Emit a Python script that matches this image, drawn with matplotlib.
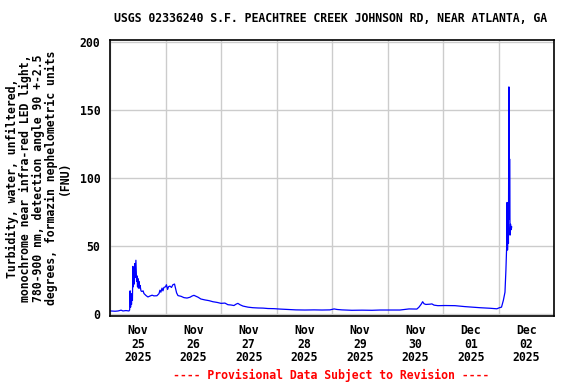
import numpy as np
import matplotlib
matplotlib.use("Agg")
import matplotlib.pyplot as plt
import matplotlib.dates as mdates
from datetime import datetime, timedelta

title = "USGS 02336240 S.F. PEACHTREE CREEK JOHNSON RD, NEAR ATLANTA, GA"
ylabel = ("Turbidity, water, unfiltered,\nmonochrome near infra-red LED light,\n"
          "780-900 nm, detection angle 90 +-2.5\ndegrees, formazin nephelometric units\n(FNU)")
footer = "---- Provisional Data Subject to Revision ----"

# hours since 2025-11-25 00:00
hours = [0.3, 2.2, 3.5, 4.8, 5.6, 6.9, 8.2, 8.5, 8.7, 8.9, 9.1, 9.3, 9.5, 9.7, 9.9, 10.1,
         10.3, 10.5, 10.7, 10.9, 11.2, 11.5, 11.7, 11.9, 12.1, 12.3, 12.5, 12.8, 13.0, 13.4,
         13.8, 14.3, 14.7, 15.6, 16.4, 17.3, 18.2, 19.0, 20.3, 21.2, 21.6, 22.0, 22.5, 22.9,
         23.3, 24.0, 24.4, 24.9, 25.3, 25.9, 26.6, 27.2, 27.9, 28.3, 28.8, 29.4, 30.7, 32.0,
         33.3, 34.6, 35.5, 36.3, 37.2, 38.1, 39.3, 41.1, 42.8, 44.5, 46.3, 48.0, 49.7, 51.0,
         52.3, 53.6, 54.5, 55.3, 56.2, 57.5, 59.7, 61.8, 64.0, 66.2, 68.3, 70.9, 73.5, 77.0,
         80.4, 84.3, 88.2, 91.7, 95.1, 96.9, 98.2, 100.3, 104.6, 109.0, 113.3, 116.8, 121.1,
         125.4, 129.3, 132.7, 133.6, 134.5, 135.2, 135.8, 136.6, 138.4, 139.2, 140.1, 141.8,
         144.9, 149.2, 153.5, 156.5, 160.0, 164.3, 167.3, 168.4, 169.3, 170.1, 170.8, 171.2,
         171.5, 171.7, 171.9, 172.1, 172.3, 172.5, 172.7, 172.8, 173.0, 173.2, 173.5, 173.7]
values = [2.2, 2.0, 2.2, 2.8, 2.2, 2.5, 2.2, 3.0, 17, 5, 13, 7, 15, 10, 35, 20,
          34, 22, 37, 27, 39.5, 24, 28, 20, 26, 19, 24, 19, 21, 17,
          16.5, 17, 15, 13.5, 12.5, 13.2, 13.8, 13.3, 13.4, 15, 17.5, 16, 19, 17,
          19.5, 20, 21.5, 18, 20, 20.5, 19.5, 21.5, 22, 19, 15.5, 13.5, 13.0, 12.0,
          11.7, 12.3, 13.2, 13.7, 13.0, 12.3, 11.0, 10.3, 9.8, 9.0, 8.5, 7.8, 8.0, 6.8,
          6.6, 6.2, 7.2, 7.8, 6.8, 5.8, 5.0, 4.6, 4.4, 4.3, 4.0, 3.9, 3.6, 3.3,
          3.0, 2.9, 3.0, 2.9, 3.0, 3.7, 3.3, 3.0, 2.7, 2.8, 2.7, 2.9, 2.9,
          2.9, 3.7, 3.6, 5.0, 7.0, 9.0, 7.5, 7.0, 7.2, 7.4, 6.5, 6.1,
          6.2, 6.1, 5.4, 5.0, 4.6, 4.2, 3.8, 4.6, 5.0, 10, 16, 32,
          48, 82, 47, 62, 52, 167, 70, 114, 58, 66, 62, 64]

yticks = [0, 50, 100, 150, 200]
day_labels = ["Nov\n25\n2025", "Nov\n26\n2025", "Nov\n27\n2025", "Nov\n28\n2025",
              "Nov\n29\n2025", "Nov\n30\n2025", "Dec\n01\n2025", "Dec\n02\n2025"]

start = datetime(2025, 11, 25)
times = [start + timedelta(hours=h) for h in hours]

font = "DejaVu Sans Mono"
fig = plt.figure(figsize=(5.76, 3.84), dpi=100)
ax = fig.add_axes([110/576, 1-316/384, 444/576, 276/384])

ax.plot(times, values, color="#0000ff", linewidth=0.9)

ax.set_xlim(start, start + timedelta(days=8))
ax.set_ylim(-1.5, 201.5)

midnights = [start + timedelta(days=i) for i in range(9)]
noons = [start + timedelta(days=i, hours=12) for i in range(8)]
ax.set_xticks(midnights)
ax.set_xticklabels([""] * len(midnights))
ax.set_xticks(noons, minor=True)
ax.set_xticklabels(day_labels, minor=True, fontfamily=font, fontweight="bold", fontsize=8.3,
                   linespacing=1.05)
ax.tick_params(axis="x", which="both", length=0, pad=6)
ax.set_yticks(yticks)
ax.set_yticklabels([str(v) for v in yticks], fontfamily=font, fontweight="bold", fontsize=8.3)
ax.tick_params(axis="y", length=0, pad=7)

ax.grid(True, which="major", color="#cccccc", linewidth=1.0)
ax.set_axisbelow(True)
for s in ax.spines.values():
    s.set_linewidth(1.2)
    s.set_color("black")

ax.set_ylabel(ylabel, fontfamily=font, fontweight="bold", fontsize=8.3, linespacing=1.0,
              labelpad=6)

fig.text(331/576, 1-19/384, title, ha="center", va="center", fontfamily=font,
         fontweight="bold", fontsize=8.3)
fig.text(331/576, 1-375/384, footer, ha="center", va="center", fontfamily=font,
         fontweight="bold", fontsize=8.3, color="#ff0000")

fig.savefig("out.png", dpi=100)
